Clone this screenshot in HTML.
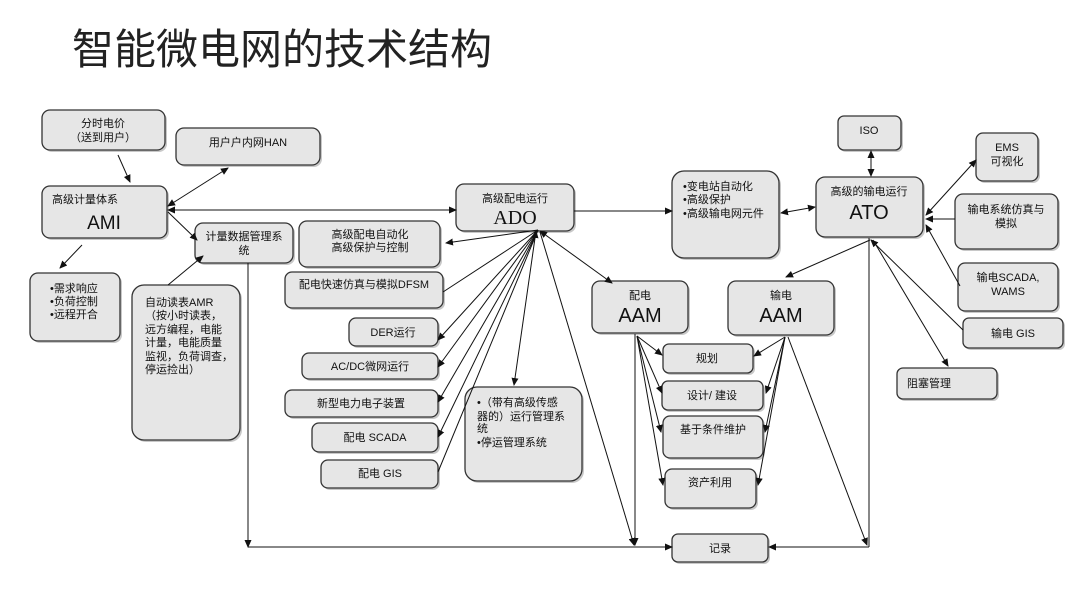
<!DOCTYPE html>
<html><head><meta charset="utf-8"><style>
html,body{margin:0;padding:0;background:#fff;}
svg{display:block;}
text{font-family:"Liberation Sans","Noto Sans CJK SC",sans-serif;fill:#111;}
.b{fill:#e6e6e6;stroke:#333;stroke-width:1.3;}
.s{fill:#9a9a9a;opacity:.55;}
.l{stroke:#111;stroke-width:1;fill:none;}
.t{font-size:11px;}
.big{font-size:20px;}
</style></head><body>
<svg width="1080" height="608" viewBox="0 0 1080 608" xmlns="http://www.w3.org/2000/svg">
<defs>
<marker id="a" markerWidth="8" markerHeight="8" refX="7" refY="4" orient="auto" markerUnits="userSpaceOnUse"><path d="M0,0.5 L8,4 L0,7.5z" fill="#111"/></marker>
<marker id="as" markerWidth="8" markerHeight="8" refX="1" refY="4" orient="auto" markerUnits="userSpaceOnUse"><path d="M8,0.5 L0,4 L8,7.5z" fill="#111"/></marker>
</defs>
<text x="72" y="64" style="font-size:42px;fill:#222">智能微电网的技术结构</text>

<!-- boxes -->
<g>
<rect class="s" x="44" y="112" width="123" height="40" rx="8"/><rect class="b" x="42" y="110" width="123" height="40" rx="8"/>
<rect class="s" x="178" y="130" width="144" height="37" rx="8"/><rect class="b" x="176" y="128" width="144" height="37" rx="8"/>
<rect class="s" x="44" y="188" width="125" height="52" rx="8"/><rect class="b" x="42" y="186" width="125" height="52" rx="8"/>
<rect class="s" x="32" y="275" width="90" height="68" rx="8"/><rect class="b" x="30" y="273" width="90" height="68" rx="8"/>
<rect class="s" x="197" y="225" width="98" height="40" rx="8"/><rect class="b" x="195" y="223" width="98" height="40" rx="8"/>
<rect class="s" x="134" y="287" width="108" height="155" rx="12"/><rect class="b" x="132" y="285" width="108" height="155" rx="12"/>
<rect class="s" x="301" y="223" width="141" height="46" rx="8"/><rect class="b" x="299" y="221" width="141" height="46" rx="8"/>
<rect class="s" x="287" y="274" width="158" height="36" rx="7"/><rect class="b" x="285" y="272" width="158" height="36" rx="7"/>
<rect class="s" x="351" y="320" width="89" height="28" rx="7"/><rect class="b" x="349" y="318" width="89" height="28" rx="7"/>
<rect class="s" x="304" y="355" width="136" height="26" rx="7"/><rect class="b" x="302" y="353" width="136" height="26" rx="7"/>
<rect class="s" x="287" y="392" width="153" height="27" rx="7"/><rect class="b" x="285" y="390" width="153" height="27" rx="7"/>
<rect class="s" x="314" y="425" width="126" height="29" rx="7"/><rect class="b" x="312" y="423" width="126" height="29" rx="7"/>
<rect class="s" x="323" y="462" width="117" height="28" rx="7"/><rect class="b" x="321" y="460" width="117" height="28" rx="7"/>
<rect class="s" x="458" y="186" width="118" height="47" rx="8"/><rect class="b" x="456" y="184" width="118" height="47" rx="8"/>
<rect class="s" x="674" y="173" width="107" height="87" rx="12"/><rect class="b" x="672" y="171" width="107" height="87" rx="12"/>
<rect class="s" x="467" y="389" width="117" height="94" rx="12"/><rect class="b" x="465" y="387" width="117" height="94" rx="12"/>
<rect class="s" x="594" y="283" width="96" height="52" rx="8"/><rect class="b" x="592" y="281" width="96" height="52" rx="8"/>
<rect class="s" x="730" y="283" width="106" height="54" rx="8"/><rect class="b" x="728" y="281" width="106" height="54" rx="8"/>
<rect class="s" x="665" y="346" width="90" height="29" rx="6"/><rect class="b" x="663" y="344" width="90" height="29" rx="6"/>
<rect class="s" x="664" y="383" width="101" height="29" rx="6"/><rect class="b" x="662" y="381" width="101" height="29" rx="6"/>
<rect class="s" x="665" y="418" width="100" height="42" rx="7"/><rect class="b" x="663" y="416" width="100" height="42" rx="7"/>
<rect class="s" x="667" y="471" width="91" height="39" rx="7"/><rect class="b" x="665" y="469" width="91" height="39" rx="7"/>
<rect class="s" x="674" y="536" width="96" height="28" rx="6"/><rect class="b" x="672" y="534" width="96" height="28" rx="6"/>
<rect class="s" x="818" y="179" width="107" height="60" rx="9"/><rect class="b" x="816" y="177" width="107" height="60" rx="9"/>
<rect class="s" x="840" y="118" width="63" height="34" rx="6"/><rect class="b" x="838" y="116" width="63" height="34" rx="6"/>
<rect class="s" x="978" y="135" width="62" height="48" rx="7"/><rect class="b" x="976" y="133" width="62" height="48" rx="7"/>
<rect class="s" x="957" y="196" width="103" height="55" rx="8"/><rect class="b" x="955" y="194" width="103" height="55" rx="8"/>
<rect class="s" x="960" y="265" width="100" height="48" rx="7"/><rect class="b" x="958" y="263" width="100" height="48" rx="7"/>
<rect class="s" x="965" y="320" width="100" height="30" rx="6"/><rect class="b" x="963" y="318" width="100" height="30" rx="6"/>
<rect class="s" x="899" y="370" width="100" height="31" rx="6"/><rect class="b" x="897" y="368" width="100" height="31" rx="6"/>
</g>

<!-- text -->
<g class="t">
<text x="103" y="127" text-anchor="middle">分时电价</text>
<text x="103" y="141" text-anchor="middle">（送到用户）</text>
<text x="248" y="146" text-anchor="middle">用户户内网HAN</text>
<text x="52" y="203">高级计量体系</text>
<text x="104" y="229" text-anchor="middle" class="big" style="font-size:19px">AMI</text>
<text x="50" y="292">•需求响应</text>
<text x="50" y="305">•负荷控制</text>
<text x="50" y="318">•远程开合</text>
<text x="244" y="240" text-anchor="middle">计量数据管理系</text>
<text x="244" y="254" text-anchor="middle">统</text>
<text x="145" y="306">自动读表AMR</text>
<text x="145" y="319">（按小时读表，</text>
<text x="145" y="333">远方编程，电能</text>
<text x="145" y="346">计量，电能质量</text>
<text x="145" y="360">监视，负荷调查，</text>
<text x="145" y="373">停运捡出）</text>
<text x="370" y="238" text-anchor="middle">高级配电自动化</text>
<text x="370" y="251" text-anchor="middle">高级保护与控制</text>
<text x="364" y="288" text-anchor="middle">配电快速仿真与模拟DFSM</text>
<text x="393" y="336" text-anchor="middle">DER运行</text>
<text x="370" y="370" text-anchor="middle">AC/DC微网运行</text>
<text x="361" y="407" text-anchor="middle">新型电力电子装置</text>
<text x="375" y="441" text-anchor="middle">配电 SCADA</text>
<text x="380" y="477" text-anchor="middle">配电 GIS</text>
<text x="515" y="202" text-anchor="middle">高级配电运行</text>
<text x="515" y="224" text-anchor="middle" style="font-size:20px;font-family:'Liberation Serif',serif">ADO</text>
<text x="683" y="190">•变电站自动化</text>
<text x="683" y="203">•高级保护</text>
<text x="683" y="217">•高级输电网元件</text>
<text x="477" y="406">•（带有高级传感</text>
<text x="477" y="420">器的）运行管理系</text>
<text x="477" y="432">统</text>
<text x="477" y="446">•停运管理系统</text>
<text x="640" y="299" text-anchor="middle">配电</text>
<text x="640" y="322" text-anchor="middle" style="font-size:20px">AAM</text>
<text x="781" y="299" text-anchor="middle">输电</text>
<text x="781" y="322" text-anchor="middle" style="font-size:20px">AAM</text>
<text x="707" y="362" text-anchor="middle">规划</text>
<text x="712" y="399" text-anchor="middle">设计/ 建设</text>
<text x="713" y="433" text-anchor="middle">基于条件维护</text>
<text x="710" y="486" text-anchor="middle">资产利用</text>
<text x="720" y="552" text-anchor="middle">记录</text>
<text x="869" y="195" text-anchor="middle">高级的输电运行</text>
<text x="869" y="219" text-anchor="middle" style="font-size:20px">ATO</text>
<text x="869" y="134" text-anchor="middle">ISO</text>
<text x="1007" y="151" text-anchor="middle">EMS</text>
<text x="1007" y="165" text-anchor="middle">可视化</text>
<text x="1006" y="213" text-anchor="middle">输电系统仿真与</text>
<text x="1006" y="227" text-anchor="middle">模拟</text>
<text x="1008" y="281" text-anchor="middle">输电SCADA,</text>
<text x="1008" y="295" text-anchor="middle">WAMS</text>
<text x="1013" y="337" text-anchor="middle">输电 GIS</text>
<text x="907" y="387">阻塞管理</text>
</g>

<!-- connectors -->
<g class="l">
<line x1="118" y1="155" x2="130" y2="182" marker-end="url(#a)"/>
<line x1="228" y1="168" x2="168" y2="206" marker-end="url(#a)" marker-start="url(#as)"/>
<line x1="168" y1="210" x2="456" y2="210" marker-end="url(#a)" marker-start="url(#as)"/>
<line x1="168" y1="212" x2="197" y2="240" marker-end="url(#a)"/>
<line x1="82" y1="245" x2="60" y2="268" marker-end="url(#a)"/>
<line x1="168" y1="285" x2="203" y2="256" marker-end="url(#a)"/>
<polyline points="248,263 248,547"/>
<line x1="248" y1="540" x2="248" y2="547" marker-end="url(#a)"/>
<line x1="248" y1="547" x2="672" y2="547" marker-end="url(#a)"/>
<line x1="538" y1="230" x2="446" y2="243" marker-end="url(#a)"/>
<line x1="538" y1="230" x2="443" y2="292"/>
<line x1="538" y1="230" x2="438" y2="340" marker-end="url(#a)"/>
<line x1="538" y1="230" x2="438" y2="367" marker-end="url(#a)"/>
<line x1="538" y1="230" x2="438" y2="402" marker-end="url(#a)"/>
<line x1="538" y1="230" x2="438" y2="437" marker-end="url(#a)"/>
<line x1="538" y1="230" x2="438" y2="472"/>
<line x1="536" y1="231" x2="514" y2="385" marker-end="url(#a)" marker-start="url(#as)"/>
<line x1="540" y1="231" x2="612" y2="283" marker-end="url(#a)" marker-start="url(#as)"/>
<line x1="540" y1="232" x2="634" y2="545" marker-end="url(#a)"/>
<line x1="574" y1="211" x2="672" y2="211" marker-end="url(#a)"/>
<line x1="781" y1="213" x2="815" y2="207" marker-end="url(#a)" marker-start="url(#as)"/>
<line x1="870" y1="240" x2="786" y2="277" marker-end="url(#a)"/>
<line x1="871" y1="151" x2="871" y2="176" marker-end="url(#a)" marker-start="url(#as)"/>
<line x1="976" y1="160" x2="926" y2="215" marker-end="url(#a)" marker-start="url(#as)"/>
<line x1="955" y1="219" x2="926" y2="219" marker-end="url(#a)"/>
<line x1="960" y1="286" x2="926" y2="225" marker-end="url(#a)"/>
<line x1="963" y1="330" x2="871" y2="240" marker-end="url(#a)"/>
<line x1="873" y1="240" x2="948" y2="366" marker-end="url(#a)"/>
<line x1="869" y1="238" x2="869" y2="547"/>
<line x1="869" y1="547" x2="769" y2="547" marker-end="url(#a)"/>
<line x1="788" y1="337" x2="867" y2="545" marker-end="url(#a)"/>
<line x1="635" y1="334" x2="635" y2="545" marker-end="url(#a)"/>
<line x1="637" y1="336" x2="662" y2="355" marker-end="url(#a)"/>
<line x1="637" y1="336" x2="662" y2="393" marker-end="url(#a)"/>
<line x1="637" y1="336" x2="661" y2="432" marker-end="url(#a)"/>
<line x1="637" y1="336" x2="663" y2="485" marker-end="url(#a)"/>
<line x1="785" y1="337" x2="754" y2="356" marker-end="url(#a)"/>
<line x1="785" y1="337" x2="766" y2="393" marker-end="url(#a)"/>
<line x1="785" y1="337" x2="765" y2="432" marker-end="url(#a)"/>
<line x1="785" y1="337" x2="758" y2="485" marker-end="url(#a)"/>
</g>
</svg>
</body></html>
